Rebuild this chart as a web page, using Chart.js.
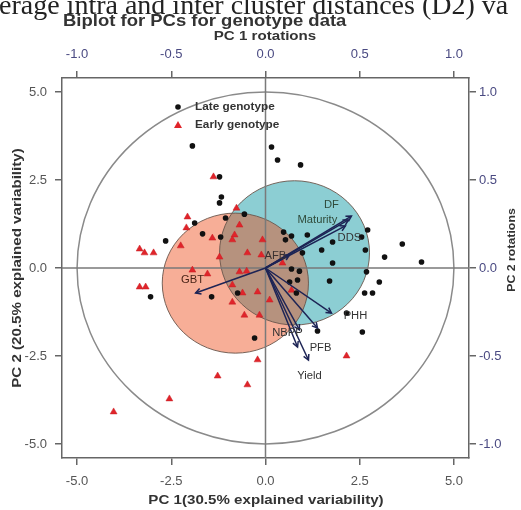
<!DOCTYPE html>
<html>
<head>
<meta charset="utf-8">
<script src="https://cdn.jsdelivr.net/npm/chart.js@4.4.1/dist/chart.umd.min.js"></script>
<style>
  html, body { margin: 0; padding: 0; background: #fff; overflow: hidden; }
</style>
</head>
<body>
<canvas id="chart-biplot" width="521" height="510"></canvas>
<script>
// ---- data ----
const lateGenotype = [
  [-1.94, 3.47], [0.16, 3.44], [0.32, 3.07], [0.93, 2.93], [-1.22, 2.59],
  [-1.17, 2.02], [-1.22, 1.85], [-0.56, 1.53], [-1.06, 1.42], [-1.88, 1.28],
  [-1.67, 0.97], [-1.19, 0.88], [-2.65, 0.77], [0.48, 1.02], [0.69, 0.91],
  [0.53, 0.80], [1.11, 0.94], [1.78, 0.74], [1.49, 0.51], [2.55, 0.88],
  [2.71, 1.08], [2.65, 0.51], [3.16, 0.31], [3.63, 0.68], [4.14, 0.17],
  [1.78, 0.14], [2.68, -0.11], [0.98, 0.43], [0.69, -0.03], [0.90, -0.09],
  [1.70, -0.37], [3.02, -0.40], [2.63, -0.71], [2.84, -0.71], [0.64, -0.40],
  [0.85, -0.34], [0.82, -0.71], [2.15, -1.28], [1.38, -1.79], [2.57, -1.82],
  [-0.29, -1.99], [-3.05, -0.82], [-1.43, -0.82], [-0.74, -0.71]
];
const earlyGenotype = [
  [-1.38, 2.59], [-0.77, 1.70], [-2.07, 1.45], [-0.69, 1.22], [-2.10, 1.14],
  [-1.41, 0.85], [-0.82, 0.94], [-0.88, 0.80], [-2.25, 0.63], [-3.34, 0.54],
  [-3.21, 0.43], [-2.97, 0.43], [-1.22, 0.31], [-0.48, 0.43], [-0.11, 0.37],
  [-3.34, -0.54], [-3.18, -0.54], [-1.94, -0.06], [-1.54, -0.17], [-0.69, -0.11],
  [-0.50, -0.09], [-0.88, -0.48], [-0.61, -0.71], [-0.88, -0.97], [-0.56, -1.34],
  [-0.16, -1.34], [-0.21, -0.68], [-0.21, -2.61], [-1.27, -3.07], [-0.48, -3.32],
  [-2.55, -3.72], [-4.03, -4.09], [2.15, -2.50], [-0.08, 0.80], [0.45, 0.14],
  [0.69, -0.63], [0.11, -0.91]
];

// variable loadings (PC rotations)
const loadingNames = ['GBT', 'AFB', 'DF', 'Maturity', 'DDS', 'PHH', '', 'NBPP', 'PFB', 'Yield'];
const loadingPC1 = [-0.371, 0.127, 0.456, 0.440, 0.424, 0.350, 0.276, 0.180, 0.170, 0.228];
const loadingPC2 = [-0.142, 0.074, 0.295, 0.273, 0.239, -0.256, -0.341, -0.352, -0.449, -0.523];

// cluster ellipses (late, early)
const clusterNames = ['Late genotype', 'Early genotype'];
const ellipseCenterX = [0.77, -0.80];
const ellipseCenterY = [0.43, -0.43];
const ellipseRadX = [1.99, 1.94];
const ellipseRadY = [2.05, 1.99];

// axis ticks
const pcTicks = [-5, -2.5, 0, 2.5, 5];
const rotTicks = [-1, -0.5, 0, 0.5, 1];

// ---- styles ----
const FONT = '"Liberation Sans", Arial, sans-serif';
const STRETCH = 1.12; // text in the picture is drawn a bit wide
const arrowColor = '#1d2455';
const labelOffsets = [[-3, -13], [-14, 1], [-20, -11], [-31, 0], [4, 12], [24, 3], [0, 0], [-12, 3], [23, 1], [1, 16]];
const labelColors = ['#4a2418', '#3a3030', '#2f4a3a', '#2f4a3a', '#333', '#333', '#333', '#333', '#333', '#333'];
const ellipseFill = ['rgba(25,158,168,0.5)', 'rgba(236,70,18,0.44)'];

const pts = arr => arr.map(p => ({ x: p[0], y: p[1] }));

// draws text, widened along its own direction
function wideText(ctx, text, x, y, font, rot, align) {
  ctx.save();
  ctx.translate(x, y);
  ctx.rotate(rot || 0);
  ctx.scale(STRETCH, 1);
  ctx.font = font;
  ctx.textAlign = align || 'center';
  ctx.textBaseline = 'middle';
  ctx.fillText(text, 0, 0);
  ctx.restore();
}

const arrowSets = loadingNames.map((name, i) => ({
  type: 'line',
  label: name,
  data: [{ x: 0, y: 0 }, { x: loadingPC1[i], y: loadingPC2[i] }],
  xAxisID: 'x2',
  yAxisID: 'y2',
  borderColor: arrowColor,
  borderWidth: 1.5,
  pointRadius: 0,
  order: 1
}));

// background shapes: correlation circle, cluster ellipses, zero lines
const backgroundPlugin = {
  id: 'biplotBackground',
  beforeDatasetsDraw(chart) {
    const { ctx, chartArea, scales } = chart;
    const { x, y, x2, y2 } = scales;
    ctx.save();
    ctx.beginPath();
    ctx.rect(chartArea.left, chartArea.top, chartArea.width, chartArea.height);
    ctx.clip();

    // unit circle in rotation coordinates
    const cx = x2.getPixelForValue(0), cy = y2.getPixelForValue(0);
    ctx.beginPath();
    ctx.ellipse(cx, cy, x2.getPixelForValue(1) - cx, cy - y2.getPixelForValue(1), 0, 0, Math.PI * 2);
    ctx.strokeStyle = '#8a8a8a';
    ctx.lineWidth = 1.5;
    ctx.stroke();

    // cluster ellipses
    const shape = i => {
      const ex = x.getPixelForValue(ellipseCenterX[i]);
      const ey = y.getPixelForValue(ellipseCenterY[i]);
      const rx = x.getPixelForValue(ellipseCenterX[i] + ellipseRadX[i]) - ex;
      const ry = ey - y.getPixelForValue(ellipseCenterY[i] + ellipseRadY[i]);
      ctx.beginPath();
      ctx.ellipse(ex, ey, rx, ry, 0, 0, Math.PI * 2);
    };
    for (let i = 0; i < clusterNames.length; i++) {
      shape(i);
      ctx.fillStyle = ellipseFill[i];
      ctx.fill();
    }
    for (let i = 0; i < clusterNames.length; i++) {
      shape(i);
      ctx.strokeStyle = 'rgba(105,85,75,0.9)';
      ctx.lineWidth = 1;
      ctx.stroke();
    }

    // zero lines
    ctx.strokeStyle = '#7a7a7a';
    ctx.lineWidth = 1.5;
    ctx.beginPath();
    ctx.moveTo(chartArea.left, y.getPixelForValue(0));
    ctx.lineTo(chartArea.right, y.getPixelForValue(0));
    ctx.moveTo(x.getPixelForValue(0), chartArea.top);
    ctx.lineTo(x.getPixelForValue(0), chartArea.bottom);
    ctx.stroke();
    ctx.restore();
  }
};

// arrow heads, arrow labels, legend, titles
const overlayPlugin = {
  id: 'biplotOverlay',
  afterDatasetsDraw(chart) {
    const { ctx, chartArea, scales } = chart;
    const { x2, y2 } = scales;
    const ox = x2.getPixelForValue(0), oy = y2.getPixelForValue(0);
    ctx.save();
    loadingNames.forEach((name, i) => {
      const tx = x2.getPixelForValue(loadingPC1[i]);
      const ty = y2.getPixelForValue(loadingPC2[i]);
      const ang = Math.atan2(ty - oy, tx - ox);
      ctx.strokeStyle = arrowColor;
      ctx.lineWidth = 1.5;
      ctx.beginPath();
      ctx.moveTo(tx - 6 * Math.cos(ang - 0.5), ty - 6 * Math.sin(ang - 0.5));
      ctx.lineTo(tx, ty);
      ctx.lineTo(tx - 6 * Math.cos(ang + 0.5), ty - 6 * Math.sin(ang + 0.5));
      ctx.stroke();
      if (name) {
        ctx.fillStyle = labelColors[i];
        wideText(ctx, name, tx + labelOffsets[i][0], ty + labelOffsets[i][1], '10px ' + FONT);
      }
    });

    // legend in the top-left of the plot
    const lx = chartArea.left + 116, ly = chartArea.top + 29;
    ctx.fillStyle = '#111';
    ctx.beginPath();
    ctx.arc(lx, ly, 2.8, 0, Math.PI * 2);
    ctx.fill();
    ctx.fillStyle = '#e0242a';
    ctx.beginPath();
    ctx.moveTo(lx, ly + 14);
    ctx.lineTo(lx + 4, ly + 21);
    ctx.lineTo(lx - 4, ly + 21);
    ctx.closePath();
    ctx.fill();
    ctx.fillStyle = '#333';
    wideText(ctx, clusterNames[0], lx + 17, ly, 'bold 10.5px ' + FONT, 0, 'left');
    wideText(ctx, clusterNames[1], lx + 17, ly + 18, 'bold 10.5px ' + FONT, 0, 'left');
    ctx.restore();
  },
  afterDraw(chart) {
    const { ctx } = chart;
    ctx.save();
    // cropped caption line from the page above the figure
    ctx.font = '28px "Liberation Serif", "Times New Roman", serif';
    ctx.fillStyle = '#222';
    ctx.textAlign = 'left';
    ctx.textBaseline = 'alphabetic';
    ctx.fillText('erage intra and inter cluster distances (D2) va', -1, 14);

    ctx.fillStyle = '#333';
    wideText(ctx, 'Biplot for PCs for genotype data', 63, 21, 'bold 16.5px ' + FONT, 0, 'left');
    wideText(ctx, 'PC 1 rotations', 265, 36, 'bold 13.5px ' + FONT);
    wideText(ctx, 'PC 1(30.5% explained variability)', 266, 500, 'bold 13.5px ' + FONT);
    wideText(ctx, 'PC 2 (20.5% explained variability)', 17, 268, 'bold 13.5px ' + FONT, -Math.PI / 2);
    wideText(ctx, 'PC 2 rotations', 512, 250, 'bold 11px ' + FONT, -Math.PI / 2);
    ctx.restore();
  }
};

function axis(position, range, ticks, size, color) {
  const horizontal = position === 'top' || position === 'bottom';
  return {
    type: 'linear',
    position: position,
    min: -range,
    max: range,
    afterBuildTicks: s => { s.ticks = ticks.map(v => ({ value: v })); },
    afterFit: s => { if (horizontal) s.height = size; else s.width = size; },
    grid: { drawOnChartArea: false, drawTicks: true, tickLength: 7, color: '#666', lineWidth: 1.5 },
    border: { display: true, color: '#666', width: 1.5 },
    ticks: {
      padding: position === 'right' ? 3 : (horizontal ? 9 : 8),
      color: color,
      font: { family: FONT, size: 13 },
      maxRotation: 0,
      callback: v => Number(v).toFixed(1)
    }
  };
}

const ctx = document.getElementById('chart-biplot').getContext('2d');
const biplot = new Chart(ctx, {
  data: {
    datasets: [
      {
        type: 'scatter',
        label: clusterNames[0],
        data: pts(lateGenotype),
        xAxisID: 'x', yAxisID: 'y',
        pointStyle: 'circle',
        pointRadius: 2.8,
        backgroundColor: '#111',
        borderColor: '#111',
        borderWidth: 0,
        order: 2
      },
      {
        type: 'scatter',
        label: clusterNames[1],
        data: pts(earlyGenotype),
        xAxisID: 'x', yAxisID: 'y',
        pointStyle: 'triangle',
        pointRadius: 4,
        backgroundColor: '#e0242a',
        borderColor: '#c81e24',
        borderWidth: 0.5,
        order: 2
      },
      ...arrowSets
    ]
  },
  options: {
    responsive: false,
    animation: false,
    devicePixelRatio: 1,
    layout: { padding: 0 },
    plugins: { legend: { display: false }, tooltip: { enabled: false }, title: { display: false } },
    scales: {
      x: axis('bottom', 5.4, pcTicks, 52, '#555'),
      y: axis('left', 5.4, pcTicks, 62, '#555'),
      x2: axis('top', 1.08, rotTicks, 78, '#4a4a82'),
      y2: axis('right', 1.08, rotTicks, 52, '#4a4a82')
    }
  },
  plugins: [backgroundPlugin, overlayPlugin]
});
</script>
</body>
</html>
